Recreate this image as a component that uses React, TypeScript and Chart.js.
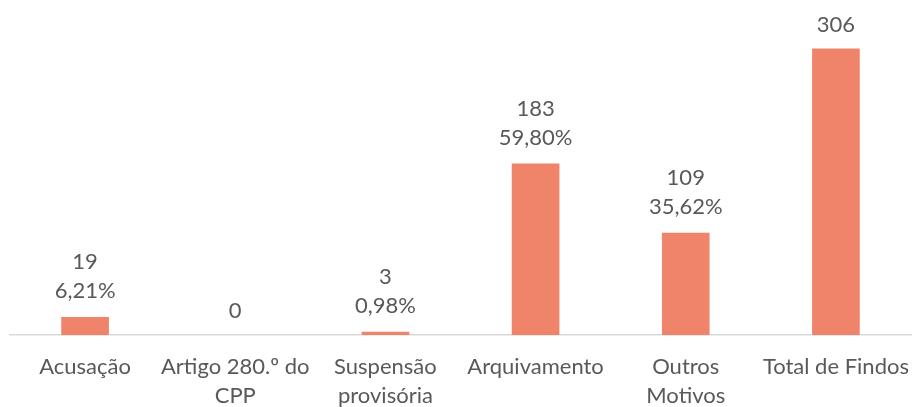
import React, { useEffect, useRef } from "react";
import { Chart, registerables } from "chart.js";

Chart.register(...registerables);

const categories: (string | string[])[] = [
  "Acusação",
  ["Artigo 280.º do", "CPP"],
  ["Suspensão", "provisória"],
  "Arquivamento",
  ["Outros", "Motivos"],
  "Total de Findos",
];
const values = [19, 0, 3, 183, 109, 306];
const pctLabels = ["6,21%", "", "0,98%", "59,80%", "35,62%", ""];

const FONT = "Lato, 'Open Sans', sans-serif";
const TEXT = "#595959";

const labelPlugin = {
  id: "barLabels",
  afterDatasetsDraw(chart: any) {
    const ctx = chart.ctx;
    const meta = chart.getDatasetMeta(0);
    ctx.save();
    ctx.font = `22px ${FONT}`;
    ctx.fillStyle = TEXT;
    ctx.textAlign = "center";
    ctx.textBaseline = "middle";
    meta.data.forEach((bar: any, i: number) => {
      const x = bar.x;
      const top = bar.y;
      if (pctLabels[i]) {
        ctx.fillText(pctLabels[i], x, top - 26);
        ctx.fillText(String(values[i]), x, top - 55);
      } else {
        ctx.fillText(String(values[i]), x, top - 24);
      }
    });
    ctx.restore();
  },
};

export default function App() {
  const ref = useRef<HTMLCanvasElement>(null);
  useEffect(() => {
    if (!ref.current) return;
    const chart = new Chart(ref.current, {
      type: "bar",
      data: {
        labels: categories,
        datasets: [
          {
            data: values,
            backgroundColor: (c: any) => (c.raw === 0 ? "rgba(0,0,0,0)" : "#F0846A"),
            borderWidth: 0,
            barThickness: 47,
          },
        ],
      },
      options: {
        animation: false,
        responsive: false,
        maintainAspectRatio: false,
        layout: { padding: { top: 17, left: 10, right: 1, bottom: 0 } },
        plugins: { legend: { display: false }, tooltip: { enabled: false } },
        scales: {
          y: { display: false, min: 0, max: 340 },
          x: {
            grid: { display: false, drawTicks: false },
            border: { display: true, color: "#d9d9d9", width: 1.5 },
            ticks: {
              color: TEXT,
              font: { family: FONT, size: 22, lineHeight: 1.33 },
              padding: 17,
              maxRotation: 0,
              autoSkip: false,
            },
            afterFit(scale: any) {
              scale.height = 72;
              scale.paddingLeft = 0;
              scale.paddingRight = 0;
            },
          },
        },
      },
      plugins: [labelPlugin],
    });
    return () => chart.destroy();
  }, []);
  return (
    <div style={{ position: "fixed", left: 0, top: 0, width: 912, height: 407, background: "#fff" }}>
      <canvas ref={ref} width={912} height={407} style={{ display: "block" }} />
    </div>
  );
}
